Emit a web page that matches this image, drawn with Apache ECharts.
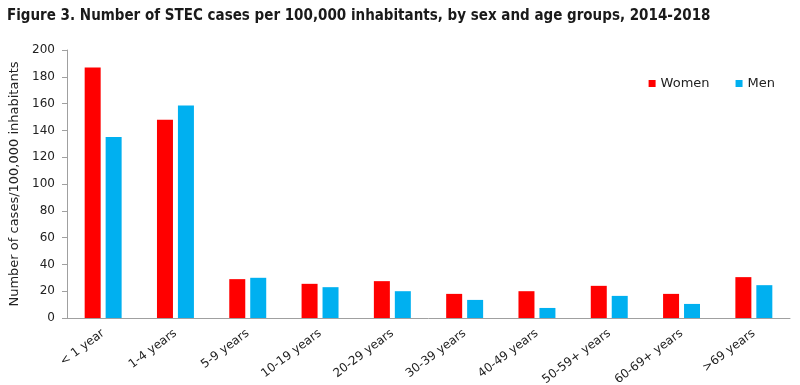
<!DOCTYPE html>
<html><head><meta charset="utf-8">
<script src="https://cdn.jsdelivr.net/npm/echarts@6/dist/echarts.min.js"></script>
<style>html,body{margin:0;padding:0;background:#fff}#c{width:800px;height:385px}</style>
</head><body><div id="c"></div>
<script>
var categories = ['< 1 year','1-4 years','5-9 years','10-19 years','20-29 years','30-39 years','40-49 years','50-59+ years','60-69+ years','>69 years'];
var women = [187,148,29,25.5,27.5,18,20,24,18,30.5];
var men = [135,158.5,30,23,20,13.5,7.5,16.5,10.5,24.5];
var yTicks = [0,20,40,60,80,100,120,140,160,180,200];

var font = '"DejaVu Sans", sans-serif';
var chart = echarts.init(document.getElementById('c'), null, {renderer:'canvas'});
chart.setOption({
  animation:false,
  title:{text:'Figure 3. Number of STEC cases per 100,000 inhabitants, by sex and age groups, 2014-2018',
    left:2, top:4, textStyle:{fontFamily:'"DejaVu Sans Condensed","DejaVu Sans",sans-serif', fontWeight:'bold', fontSize:15, color:'#1a1a1a'}},
  legend:{data:['Women','Men'], right:20, top:72, itemWidth:7, itemHeight:7, itemGap:26, icon:'rect',
    textStyle:{fontFamily:font, fontSize:13, color:'#222'}},
  grid:{left:67, right:10, top:50, bottom:67, outerBoundsMode:'none', containLabel:false},
  xAxis:{type:'category', data:categories,
    axisLine:{lineStyle:{color:'#a0a0a0', width:1}},
    axisTick:{alignWithLabel:false, length:5, lineStyle:{color:'#a0a0a0'}},
    axisLabel:{rotate:37, fontFamily:font, fontSize:12, color:'#222', margin:14}},
  yAxis:{type:'value', min:0, max:200, interval:20,
    name:'Number of cases/100,000 inhabitants', nameLocation:'middle', nameGap:43,
    nameTextStyle:{fontFamily:font, fontSize:13, color:'#222'},
    axisLine:{show:true, lineStyle:{color:'#a0a0a0'}},
    axisTick:{show:true, length:5, lineStyle:{color:'#a0a0a0'}},
    splitLine:{show:false},
    axisLabel:{fontFamily:font, fontSize:12, color:'#222', margin:12,
      formatter:function(v){return yTicks.indexOf(v)>=0?String(v):'';}}},
  series:[
    {name:'Women', type:'bar', data:women, barWidth:16, barGap:'31%', itemStyle:{color:'#FF0000'}},
    {name:'Men', type:'bar', data:men, barWidth:16, itemStyle:{color:'#00B0F0'}}
  ]
});
</script></body></html>
